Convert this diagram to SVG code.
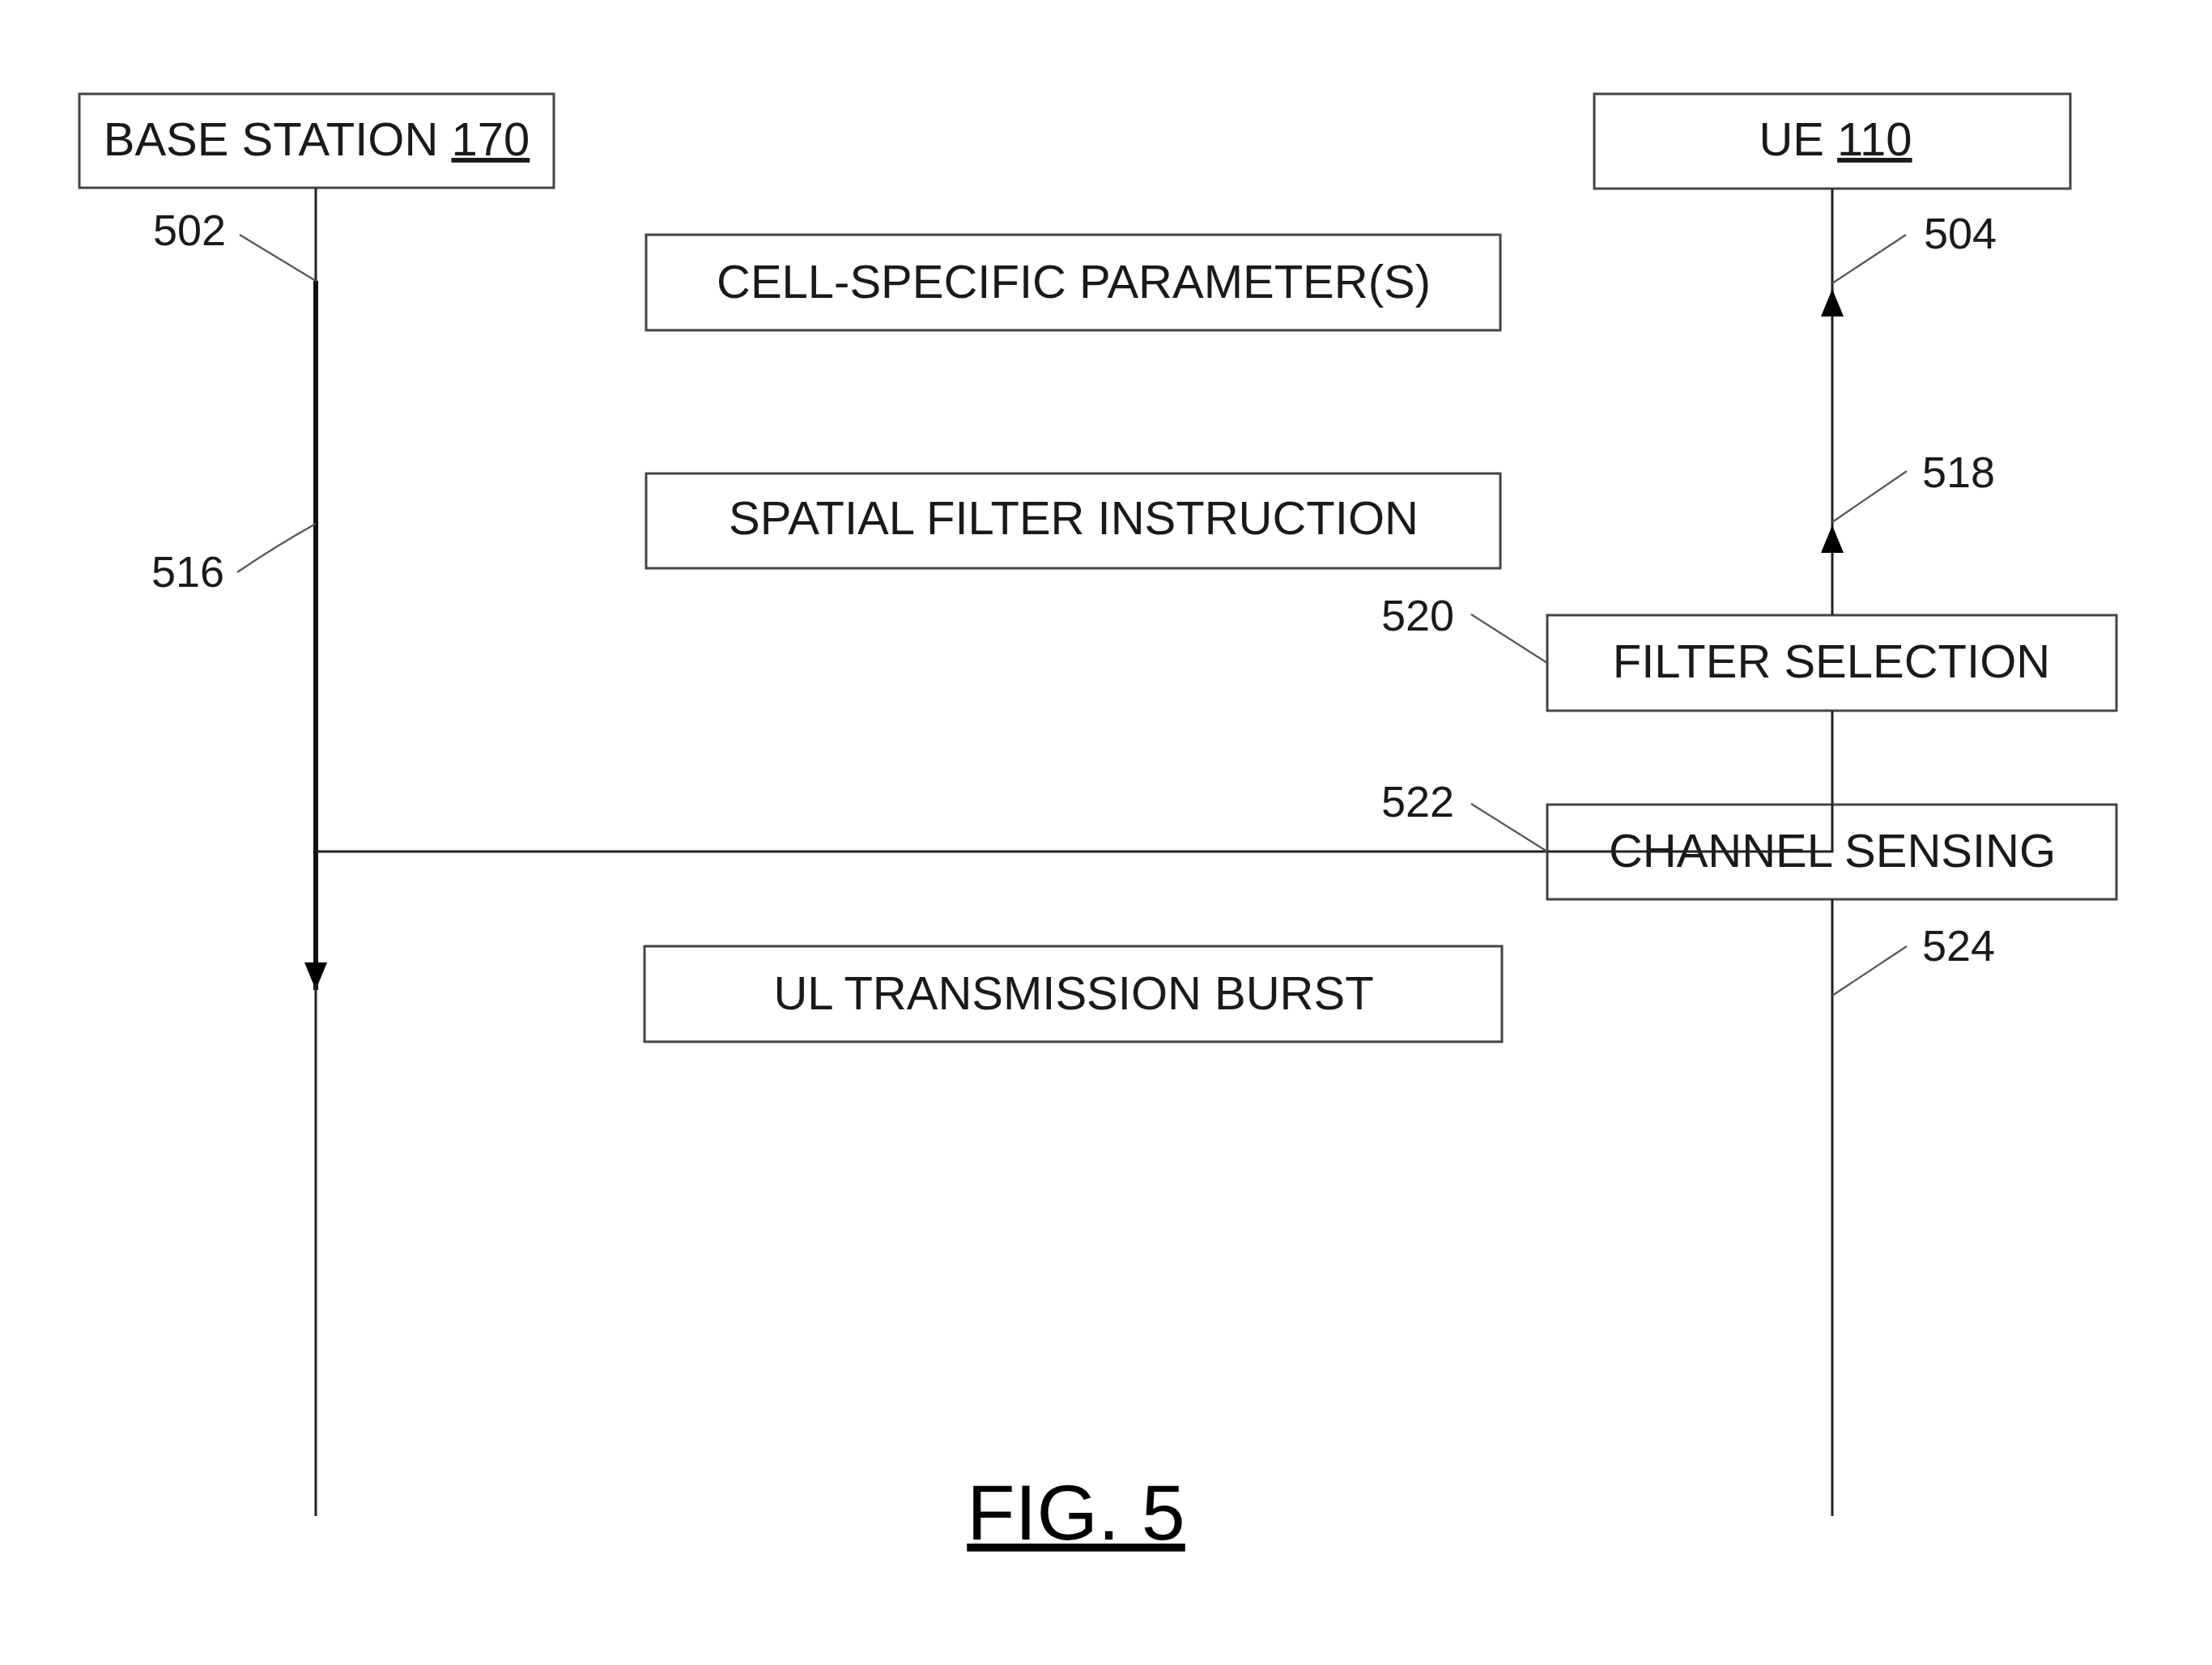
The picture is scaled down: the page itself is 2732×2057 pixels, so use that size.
<svg xmlns="http://www.w3.org/2000/svg" width="2732" height="2057" viewBox="0 0 2732 2057">
<style>
.box{fill:#fff;stroke:#444;stroke-width:3}
.t{font-family:"Liberation Sans",Arial,sans-serif;font-size:58px;fill:#1a1a1a;text-anchor:middle}
.n{font-family:"Liberation Sans",Arial,sans-serif;font-size:54px;fill:#1a1a1a}
.ln{fill:none;stroke:#222;stroke-width:3}
.thick{fill:none;stroke:#111;stroke-width:6}
.lead{fill:none;stroke:#555;stroke-width:2.2}
.fig{font-family:"Liberation Sans",Arial,sans-serif;font-size:97px;fill:#000;text-anchor:middle}
</style>
<defs>
<marker id="ah" viewBox="0 0 34 28" refX="34" refY="14" markerWidth="34" markerHeight="28" markerUnits="userSpaceOnUse" orient="auto">
<path d="M0,0 L34,14 L0,28 z" fill="#000"/>
</marker>
</defs>
<rect width="2732" height="2057" fill="#fff"/>

<g id="base-station">
<rect class="box" x="98" y="116" width="586" height="116"/>
<text class="t" x="391" y="192">BASE STATION <tspan text-decoration="underline">170</tspan></text>
</g>
<g id="ue">
<rect class="box" x="1969" y="116" width="588" height="117"/>
<text class="t" x="2267" y="192">UE <tspan text-decoration="underline">110</tspan></text>
</g>
<g id="cell-specific">
<rect class="box" x="798" y="290" width="1055" height="118"/>
<text class="t" x="1326" y="368">CELL-SPECIFIC PARAMETER(S)</text>
</g>
<g id="spatial-filter">
<rect class="box" x="798" y="585" width="1055" height="117"/>
<text class="t" x="1326" y="660">SPATIAL FILTER INSTRUCTION</text>
</g>
<g id="filter-selection">
<rect class="box" x="1911" y="760" width="703" height="118"/>
<text class="t" x="2262" y="837">FILTER SELECTION</text>
</g>
<g id="channel-sensing">
<rect class="box" x="1911" y="994" width="703" height="117"/>
<text class="t" x="2263" y="1071">CHANNEL SENSING</text>
</g>
<g id="ul-burst">
<rect class="box" x="796" y="1169" width="1059" height="118"/>
<text class="t" x="1326" y="1247">UL TRANSMISSION BURST</text>
</g>

<g id="connectors">
<path class="ln" d="M390,232 V347"/>
<path class="thick" d="M390,347 V1223" marker-end="url(#ah)"/>
<path class="ln" d="M390,1215 V1873"/>
<path class="ln" d="M390,1052 H2263 V878"/>
<path class="ln" d="M2263,760 V649 V357" marker-mid="url(#ah)" marker-end="url(#ah)" stroke-width="4.5"/>
<path class="ln" d="M2263,360 V233"/>
<path class="ln" d="M2263,1111 V1873"/>
</g>

<g id="labels">
<text class="n" x="189" y="303">502</text>
<path class="lead" d="M296,290 L390,347"/>
<text class="n" x="187" y="725">516</text>
<path class="lead" d="M293,707 Q340,675 390,647"/>
<text class="n" x="2376" y="307">504</text>
<path class="lead" d="M2354,290 L2263,350"/>
<text class="n" x="2374" y="602">518</text>
<path class="lead" d="M2355,582 L2263,645"/>
<text class="n" x="1706" y="779">520</text>
<path class="lead" d="M1817,759 L1911,819"/>
<text class="n" x="1706" y="1009">522</text>
<path class="lead" d="M1817,993 L1911,1052"/>
<text class="n" x="2374" y="1187">524</text>
<path class="lead" d="M2355,1169 L2263,1230"/>
</g>

<text class="fig" x="1329" y="1902" text-decoration="underline">FIG. 5</text>
</svg>
